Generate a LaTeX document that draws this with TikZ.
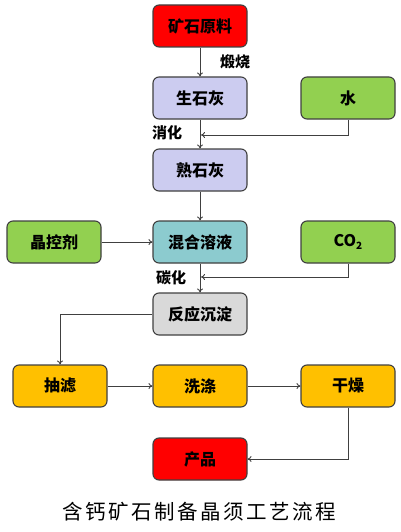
\documentclass[tikz,border=0pt]{standalone}
\usepackage{fontspec}
\usetikzlibrary{arrows.meta}
\newfontfamily\cjk{Noto Sans CJK SC}
\newfontfamily\cjkwide[LetterSpace=12]{Noto Sans CJK SC}
\definecolor{orered}{HTML}{FF0000}
\definecolor{limecol}{HTML}{CCCCF0}
\definecolor{agentgreen}{HTML}{92D050}
\definecolor{mixteal}{HTML}{8CCBCF}
\definecolor{precgray}{HTML}{D9D9D9}
\definecolor{procgold}{HTML}{FFC000}
\definecolor{linegray}{HTML}{404040}
\tikzset{
	stepbox/.style={draw=linegray, line width=1.1pt, rounded corners=6pt,
		minimum width=94pt, minimum height=42pt, inner sep=0pt,
		font=\cjk\bfseries\fontsize{16}{19}\selectfont},
	flow/.style={draw=linegray, line width=0.9pt, -{To[length=4pt,width=6pt]}},
	tag/.style={font=\cjk\bfseries\fontsize{15}{17}\selectfont}
}
\begin{document}
\begin{tikzpicture}[x=1pt,y=-1pt]
		\useasboundingbox (0,0) rectangle (401,532);
		\node[stepbox, fill=orered] (ore) at (200,26) {矿石原料};
		\node[stepbox, fill=limecol] (quick) at (200,98) {生石灰};
		\node[stepbox, fill=agentgreen] (water) at (348,98) {水};
		\node[stepbox, fill=limecol] (slaked) at (200,170) {熟石灰};
		\node[stepbox, fill=agentgreen] (agent) at (54,242) {晶控剂};
		\node[stepbox, fill=mixteal] (mix) at (200,242) {混合溶液};
		\node[stepbox, fill=agentgreen] (co2) at (348,242) {CO\raisebox{-0.35ex}{\fontsize{10}{10}\selectfont 2}};
		\node[stepbox, fill=precgray] (precip) at (200,314) {反应沉淀};
		\node[stepbox, fill=procgold] (filter) at (60,386) {抽滤};
		\node[stepbox, fill=procgold] (wash) at (200,386) {洗涤};
		\node[stepbox, fill=procgold] (dry) at (348,386) {干燥};
		\node[stepbox, fill=orered] (product) at (200,459) {产品};
		\coordinate (j1) at (201,135);
		\coordinate (j2) at (201,277);
		\draw[flow] (ore) -- (quick);
		\draw[flow] (quick) -- (slaked);
		\draw[flow] (water.south) |- (j1);
		\draw[flow] (slaked) -- (mix);
		\draw[flow] (agent) -- (mix);
		\draw[flow] (mix) -- (precip);
		\draw[flow] (co2.south) |- (j2);
		\draw[flow] (precip.west) -| (filter.north);
		\draw[flow] (filter) -- (wash);
		\draw[flow] (wash) -- (dry);
		\draw[flow] (dry.south) |- (product.east);
		\node[tag] (calc) at (235,62) {煅烧};
		\node[tag] (slake) at (167,133) {消化};
		\node[tag] (carb) at (171,278) {碳化};
		\node[font=\cjkwide\fontsize{20.5}{24}\selectfont] (title) at (199,512) {含钙矿石制备晶须工艺流程};
	\end{tikzpicture}
\end{document}
